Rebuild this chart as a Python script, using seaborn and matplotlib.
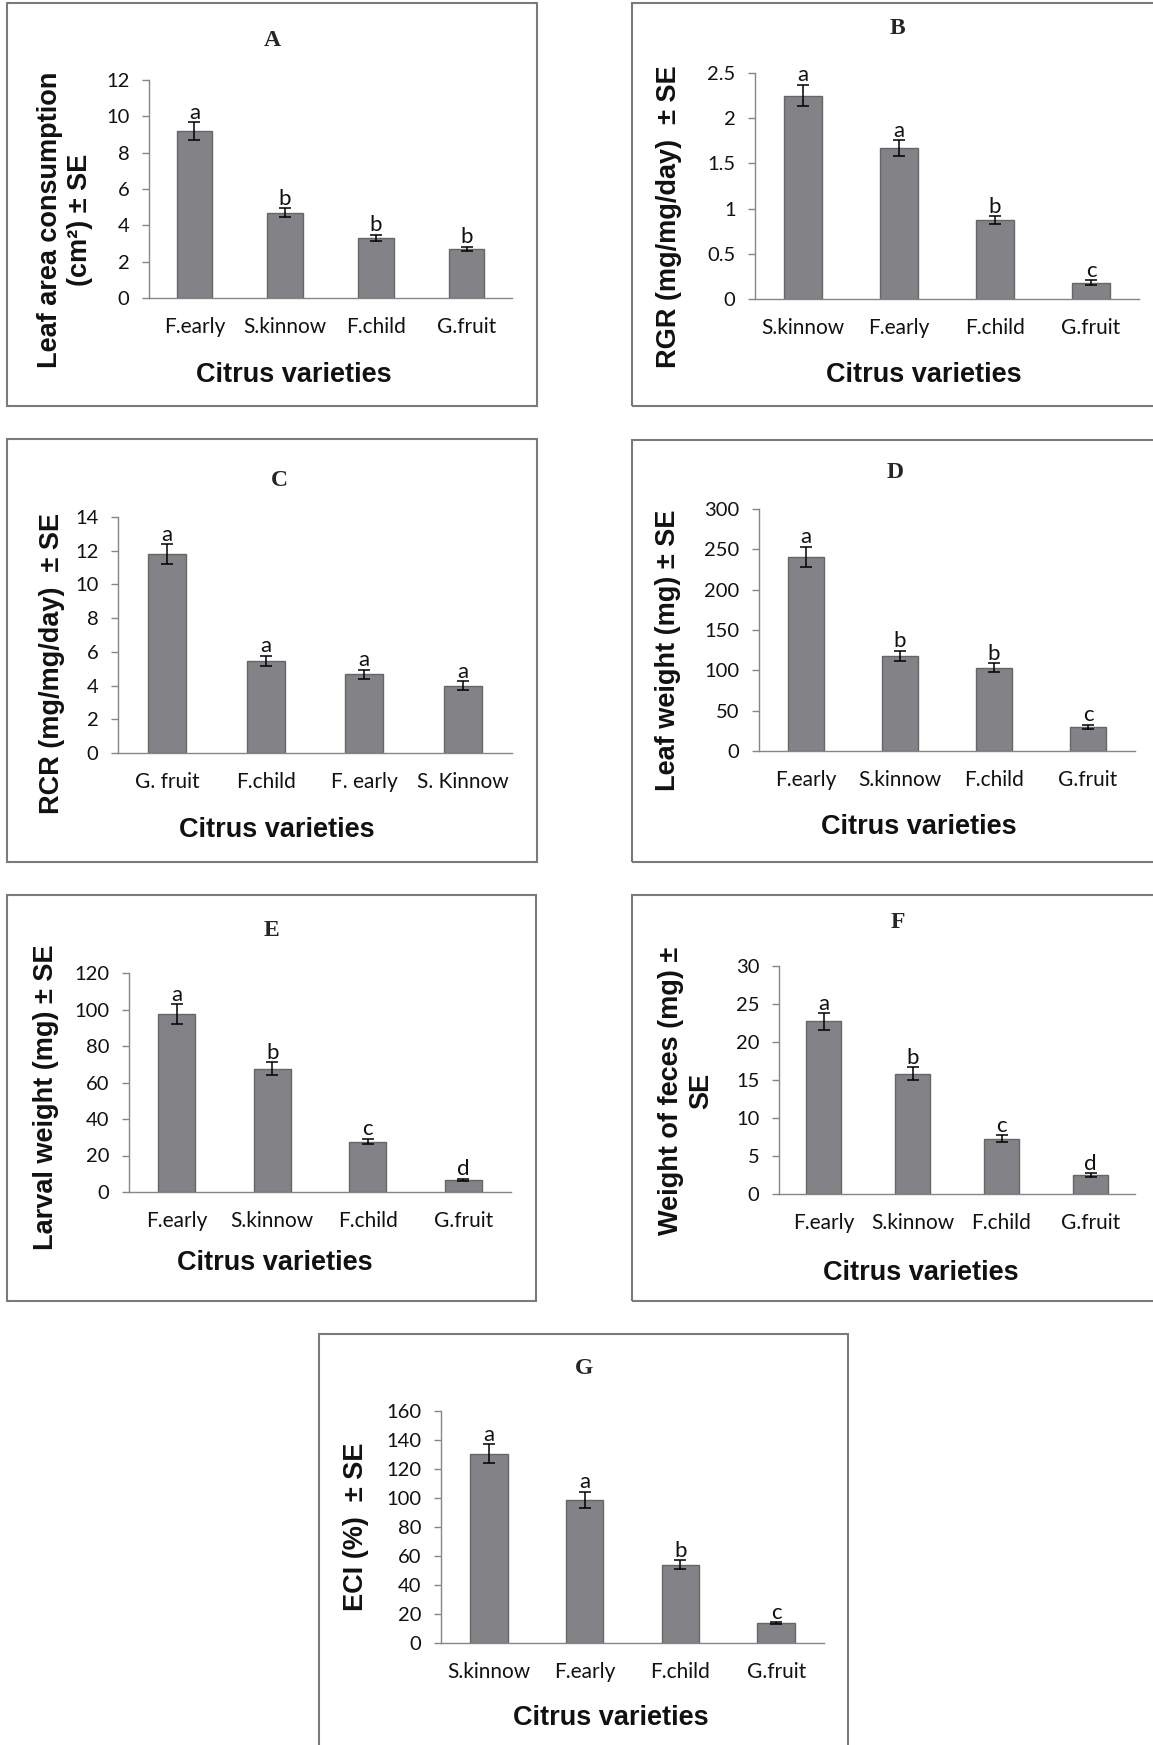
import numpy as np
import matplotlib
matplotlib.use('Agg')
import matplotlib.pyplot as plt
from matplotlib.patches import Rectangle
from matplotlib.ticker import FuncFormatter
import seaborn as sns

# ============================================================
# DATA
# ============================================================
cats_a = ["F.early", "S.kinnow", "F.child", "G.fruit"]
vals_a = [9.2, 4.7, 3.3, 2.7]
se_a = [0.48, 0.24, 0.18, 0.13]
lets_a = ["a", "b", "b", "b"]

cats_b = ["S.kinnow", "F.early", "F.child", "G.fruit"]
vals_b = [2.25, 1.67, 0.87, 0.18]
se_b = [0.12, 0.085, 0.045, 0.03]
lets_b = ["a", "a", "b", "c"]

cats_c = ["G. fruit", "F.child", "F. early", "S. Kinnow"]
vals_c = [11.8, 5.45, 4.67, 4.0]
se_c = [0.57, 0.31, 0.27, 0.26]
lets_c = ["a", "a", "a", "a"]

cats_d = ["F.early", "S.kinnow", "F.child", "G.fruit"]
vals_d = [241, 118, 103, 30]
se_d = [12.5, 6.5, 5.5, 2.5]
lets_d = ["a", "b", "b", "c"]

cats_e = ["F.early", "S.kinnow", "F.child", "G.fruit"]
vals_e = [97.5, 67.6, 27.6, 6.8]
se_e = [5.3, 3.5, 1.5, 0.5]
lets_e = ["a", "b", "c", "d"]

cats_f = ["F.early", "S.kinnow", "F.child", "G.fruit"]
vals_f = [22.7, 15.8, 7.3, 2.5]
se_f = [1.1, 0.85, 0.42, 0.25]
lets_f = ["a", "b", "c", "d"]

cats_g = ["S.kinnow", "F.early", "F.child", "G.fruit"]
vals_g = [130.5, 98.5, 54.0, 13.8]
se_g = [6.4, 5.7, 3.0, 0.5]
lets_g = ["a", "a", "b", "c"]

# ============================================================
# STYLE
# ============================================================
W, H = 1153, 1745
BAR = '#838387'
EDGE = '#666666'
AXIS = '#868686'
BOX = '#7a7a7a'

sns.set_style('white')
plt.rcParams['font.family'] = ['Lato', 'DejaVu Sans']
LABEL_FONT = ['Liberation Sans', 'DejaVu Sans']
TITLE_FONT = ['Liberation Serif', 'DejaVu Serif']


def fx(px):
    return px / W


def fy(py):
    return 1 - py / H


def draw_panel(fig, box, axbox, cats, vals, errs, letters, ymax, step,
               title, title_xy, ylabel, ylabel_xy, xlabel_xy):
    # panel frame
    x0, y0, x1, y1 = box
    fig.patches.append(Rectangle((fx(x0), fy(y1)), fx(x1 - x0), (y1 - y0) / H,
                                 transform=fig.transFigure, fill=False,
                                 edgecolor=BOX, linewidth=1.5))
    a0, b0, a1, b1 = axbox
    ax = fig.add_axes([fx(a0), fy(b1), fx(a1 - a0), (b1 - b0) / H])
    sns.barplot(x=cats, y=vals, ax=ax, color=BAR, edgecolor=EDGE,
                linewidth=1, width=0.39, errorbar=None, saturation=1)
    pos = np.arange(len(cats))
    ax.errorbar(pos, vals, yerr=errs, fmt='none', ecolor='black',
                elinewidth=1.1, capsize=4.2, capthick=1.1)
    for i, (v, e, t) in enumerate(zip(vals, errs, letters)):
        ax.annotate(t, xy=(i, v + e), xytext=(0, 2.5), textcoords='offset points',
                    ha='center', va='baseline', fontsize=16, color='#111111')

    ax.set_xlim(-0.5, len(cats) - 0.5)
    ax.set_ylim(0, ymax)
    ax.set_yticks(np.arange(0, ymax + step / 2, step))
    ax.yaxis.set_major_formatter(FuncFormatter(lambda v, p: f'{v:g}'))
    ax.set_xticks(np.arange(-0.5, len(cats), 1), minor=True)
    ax.tick_params(axis='x', which='major', length=0, pad=14,
                   labelsize=15, labelcolor='#111111')
    ax.tick_params(axis='x', which='minor', length=6, width=1, color=AXIS,
                   direction='out')
    ax.tick_params(axis='y', which='major', length=5, width=1, color=AXIS,
                   direction='out', pad=9, labelsize=14.5, labelcolor='#111111',
                   left=True)
    ax.set_xlabel('')
    ax.set_ylabel('')
    for s in ['top', 'right']:
        ax.spines[s].set_visible(False)
    for s in ['left', 'bottom']:
        ax.spines[s].set_color(AXIS)
        ax.spines[s].set_linewidth(1)
    ax.patch.set_alpha(0)

    fig.text(fx(title_xy[0]), fy(title_xy[1]), title, ha='center', va='center',
             fontsize=17, fontweight='bold', family=TITLE_FONT)
    fig.text(fx(xlabel_xy[0]), fy(xlabel_xy[1]), 'Citrus varieties', ha='center',
             va='center', fontsize=19.5, fontweight='bold', family=LABEL_FONT,
             color='#111111')
    fig.text(fx(ylabel_xy[0]), fy(ylabel_xy[1]), ylabel, ha='center', va='center',
             rotation=90, fontsize=19.5, fontweight='bold', family=LABEL_FONT,
             multialignment='center', color='#111111', linespacing=1.2)
    return ax


fig = plt.figure(figsize=(W / 100, H / 100), dpi=100)
fig.patch.set_facecolor('white')

draw_panel(fig, (7, 3, 537, 406), (149, 80, 512, 298), cats_a, vals_a, se_a,
           lets_a, 12, 2, 'A', (272, 40),
           'Leaf area consumption\n(cm²) ± SE', (65, 220), (294, 375))
draw_panel(fig, (632, 3, 1165, 406), (755, 73, 1139, 299), cats_b, vals_b, se_b,
           lets_b, 2.5, 0.5, 'B', (897, 28),
           'RGR (mg/mg/day)  ± SE', (669, 217), (924, 375))
draw_panel(fig, (7, 439, 537, 862), (118, 517, 512, 753), cats_c, vals_c, se_c,
           lets_c, 14, 2, 'C', (279, 480),
           'RCR (mg/mg/day)  ± SE', (52, 663), (277, 830))
draw_panel(fig, (632, 440, 1165, 862), (759, 509, 1135, 751), cats_d, vals_d, se_d,
           lets_d, 300, 50, 'D', (895, 472),
           'Leaf weight (mg) ± SE', (668, 650), (919, 827))
draw_panel(fig, (7, 895, 536, 1301), (129, 973, 511, 1192), cats_e, vals_e, se_e,
           lets_e, 120, 20, 'E', (271, 930),
           'Larval weight (mg) ± SE', (46, 1097), (275, 1263))
draw_panel(fig, (632, 895, 1165, 1301), (779, 966, 1135, 1194), cats_f, vals_f, se_f,
           lets_f, 30, 5, 'F', (898, 922),
           'Weight of feces (mg) ±\nSE', (686, 1091), (921, 1273))
draw_panel(fig, (319, 1334, 848, 1760), (441, 1411, 824, 1643), cats_g, vals_g, se_g,
           lets_g, 160, 20, 'G', (584, 1368),
           'ECI (%)  ± SE', (356, 1527), (611, 1718))

fig.savefig('out.png', dpi=100, facecolor='white')
